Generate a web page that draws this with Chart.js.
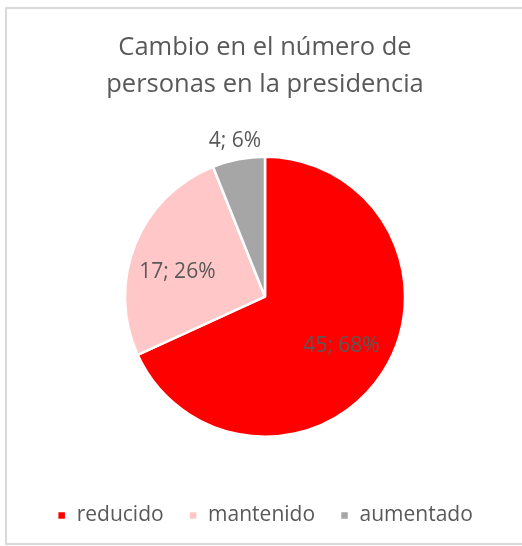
<!DOCTYPE html>
<html>
<head>
<meta charset="utf-8">
<script src="https://cdn.jsdelivr.net/npm/chart.js@4"></script>
<style>
  body { margin: 0; background: #fff; }
  #wrap { position: relative; width: 522px; height: 546px; }
</style>
</head>
<body>
<div id="wrap"><canvas id="pieChart" width="522" height="546"></canvas></div>
<script>
// Data
const categories = ['reducido', 'mantenido', 'aumentado'];
const counts = [45, 17, 4];
const percents = [68, 26, 6];
const colors = ['#FF0000', '#FFC7C7', '#A6A6A6'];
const titleLines = ['Cambio en el número de', 'personas en la presidencia'];

const textColor = '#595959';
const fontFamily = "'Open Sans', 'Noto Sans', sans-serif";

// Light frame around the whole chart
const framePlugin = {
    id: 'frame',
    beforeDraw(chart) {
        const ctx = chart.ctx;
        ctx.save();
        ctx.strokeStyle = '#D9D9D9';
        ctx.lineWidth = 2;
        ctx.strokeRect(6, 8, 530, 536);
        ctx.restore();
    }
};

// "value; percent" labels on each slice, small slice gets it outside
const sliceLabels = {
    id: 'sliceLabels',
    afterDatasetsDraw(chart) {
        const ctx = chart.ctx;
        const meta = chart.getDatasetMeta(0);
        const angleNudge = [0, -0.11, 0]; // radians, excel "best fit" placement
        ctx.save();
        ctx.font = '21px ' + fontFamily;
        ctx.fillStyle = textColor;
        ctx.textAlign = 'center';
        ctx.textBaseline = 'middle';
        meta.data.forEach((arc, i) => {
            const mid = (arc.startAngle + arc.endAngle) / 2 + angleNudge[i];
            const r = percents[i] < 10 ? arc.outerRadius + 19 : arc.outerRadius * 0.65;
            const x = arc.x + Math.cos(mid) * r;
            const y = arc.y + Math.sin(mid) * r;
            ctx.fillText(counts[i] + '; ' + percents[i] + '%', x, y);
        });
        ctx.restore();
    }
};

const ctx = document.getElementById('pieChart').getContext('2d');
new Chart(ctx, {
    type: 'pie',
    data: {
        labels: categories,
        datasets: [{
            data: counts,
            backgroundColor: colors,
            borderColor: '#FFFFFF',
            borderWidth: 2.5,
            hoverOffset: 0,
            radius: 140
        }]
    },
    options: {
        responsive: false,
        animation: false,
        layout: { padding: { left: 8, right: 0, top: 0, bottom: 10 } },
        plugins: {
            title: {
                display: true,
                text: titleLines,
                color: textColor,
                font: { family: fontFamily, size: 25.5, weight: 'normal', lineHeight: 1.42 },
                padding: { top: 30, bottom: 11 }
            },
            legend: {
                position: 'bottom',
                labels: {
                    color: textColor,
                    font: { family: fontFamily, size: 21 },
                    boxWidth: 9,
                    boxHeight: 9,
                    padding: 25
                }
            },
            tooltip: { enabled: false }
        }
    },
    plugins: [framePlugin, sliceLabels]
});
</script>
</body>
</html>
